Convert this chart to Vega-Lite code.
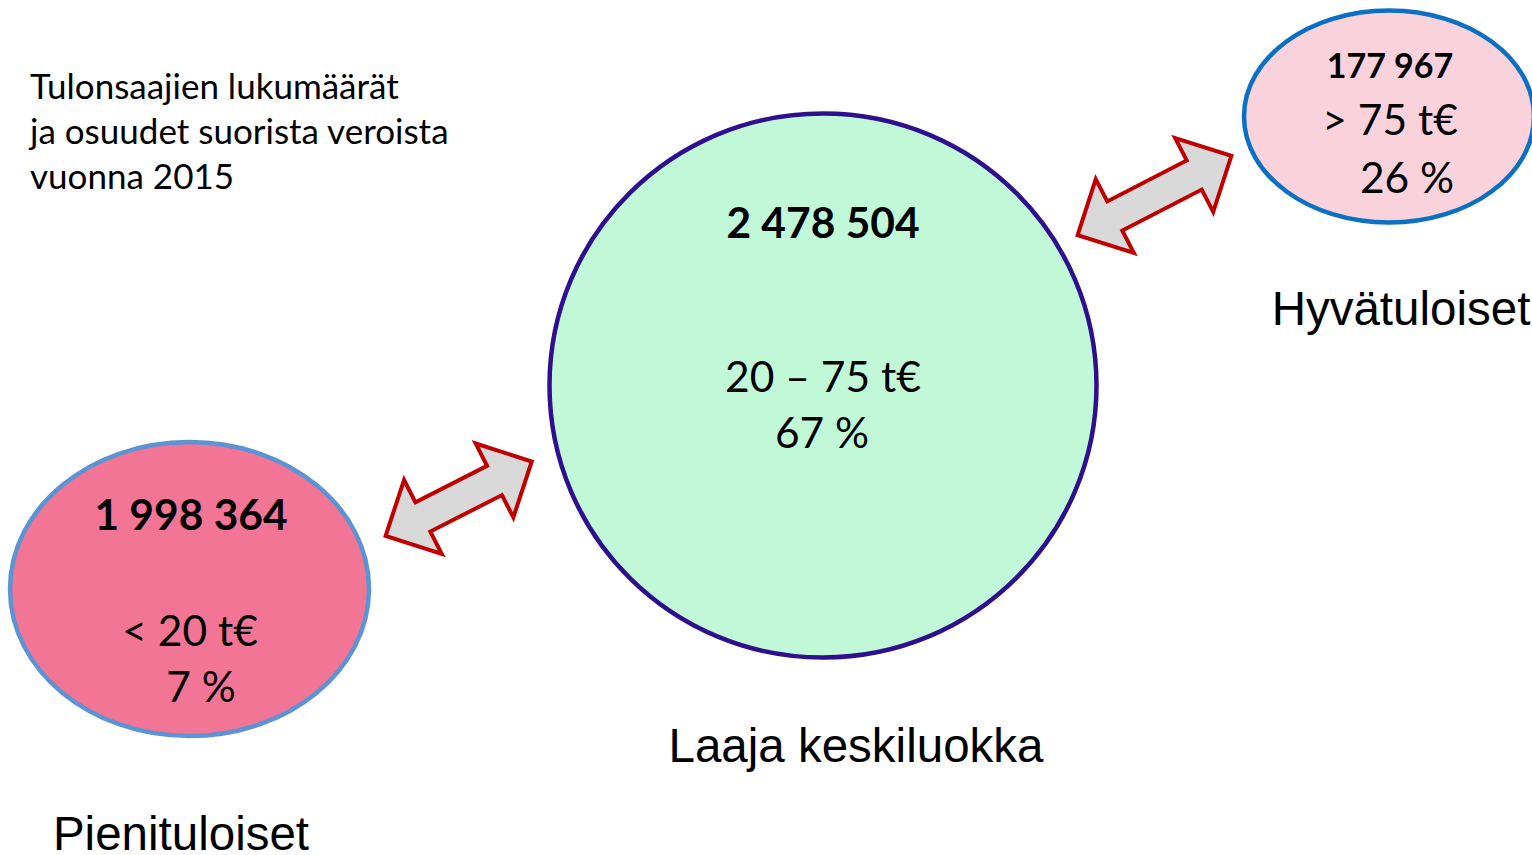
{
  "$schema": "https://vega.github.io/schema/vega-lite/v6.json",
  "width": 1532,
  "height": 855,
  "padding": 0,
  "autosize": {"type": "none"},
  "background": "white",
  "view": {"stroke": null},
  "datasets": {
    "groups": [
      {"group": "Pienituloiset", "x": 189.5, "y": 589},
      {"group": "Laaja keskiluokka", "x": 823, "y": 385.5},
      {"group": "Hyvätuloiset", "x": 1389, "y": 116.5}
    ],
    "arrows": [
      {"arrow": "left", "x": 458.7, "y": 498.7},
      {"arrow": "right", "x": 1154.5, "y": 195.5}
    ],
    "texts": [
      {"role": "title", "text": "Tulonsaajien lukumäärät", "x": 30, "y": 99},
      {"role": "title", "text": "ja osuudet suorista veroista", "x": 30, "y": 144},
      {"role": "title", "text": "vuonna 2015", "x": 30, "y": 189},
      {"role": "count", "text": "2 478 504", "x": 823, "y": 238},
      {"role": "value", "text": "20 – 75 t€", "x": 823, "y": 392},
      {"role": "value", "text": "67 %", "x": 822, "y": 448},
      {"role": "countSmall", "text": "177 967", "x": 1390, "y": 78},
      {"role": "value", "text": "> 75 t€", "x": 1390, "y": 135},
      {"role": "value", "text": "26 %", "x": 1407, "y": 193},
      {"role": "count", "text": "1 998 364", "x": 191, "y": 530},
      {"role": "value", "text": "< 20 t€", "x": 190, "y": 646},
      {"role": "value", "text": "7 %", "x": 201, "y": 702},
      {"role": "label", "text": "Laaja keskiluokka", "x": 856, "y": 762},
      {"role": "label", "text": "Pienituloiset", "x": 181, "y": 850},
      {"role": "label", "text": "Hyvätuloiset", "x": 1401, "y": 325}
    ]
  },
  "encoding": {
    "x": {"field": "x", "type": "quantitative", "scale": {"domain": [0, 1532], "nice": false, "zero": false}, "axis": null},
    "y": {"field": "y", "type": "quantitative", "scale": {"domain": [0, 855], "nice": false, "zero": false, "reverse": true}, "axis": null}
  },
  "layer": [
    {
      "data": {"name": "groups"},
      "transform": [{"filter": "datum.group === 'Pienituloiset'"}],
      "mark": {"type": "point", "filled": true, "opacity": 1, "fill": "#F37596", "stroke": "#5B93D3", "strokeWidth": 4.5, "size": 128881,
        "shape": "M 1 0 C 1 0.4523 0.5523 0.819 0 0.819 C -0.5523 0.819 -1 0.4523 -1 0 C -1 -0.4523 -0.5523 -0.819 0 -0.819 C 0.5523 -0.819 1 -0.4523 1 0 Z"}
    },
    {
      "data": {"name": "groups"},
      "transform": [{"filter": "datum.group === 'Laaja keskiluokka'"}],
      "mark": {"type": "point", "filled": true, "opacity": 1, "fill": "#C1F9D8", "stroke": "#2E0F8E", "strokeWidth": 4.5, "size": 299209,
        "shape": "M 1 0 C 1 0.5493 0.5523 0.9945 0 0.9945 C -0.5523 0.9945 -1 0.5493 -1 0 C -1 -0.5493 -0.5523 -0.9945 0 -0.9945 C 0.5523 -0.9945 1 -0.5493 1 0 Z"}
    },
    {
      "data": {"name": "groups"},
      "transform": [{"filter": "datum.group === 'Hyvätuloiset'"}],
      "mark": {"type": "point", "filled": true, "opacity": 1, "fill": "#F9D2DC", "stroke": "#0B70C4", "strokeWidth": 4.5, "size": 84100,
        "shape": "M 1 0 C 1 0.4037 0.5523 0.731 0 0.731 C -0.5523 0.731 -1 0.4037 -1 0 C -1 -0.4037 -0.5523 -0.731 0 -0.731 C 0.5523 -0.731 1 -0.4037 1 0 Z"}
    },
    {
      "data": {"name": "arrows"},
      "transform": [{"filter": "datum.arrow === 'left'"}],
      "mark": {"type": "point", "filled": true, "opacity": 1, "fill": "#D9D9D9", "stroke": "#C00000", "strokeWidth": 4, "strokeJoin": "miter", "size": 26896, "angle": 333,
        "shape": "M -1 0 L -0.49 -0.506 L -0.49 -0.2 L 0.49 -0.2 L 0.49 -0.506 L 1 0 L 0.49 0.506 L 0.49 0.2 L -0.49 0.2 L -0.49 0.506 Z"}
    },
    {
      "data": {"name": "arrows"},
      "transform": [{"filter": "datum.arrow === 'right'"}],
      "mark": {"type": "point", "filled": true, "opacity": 1, "fill": "#D9D9D9", "stroke": "#C00000", "strokeWidth": 4, "strokeJoin": "miter", "size": 26896, "angle": 332.7,
        "shape": "M -1.055 0 L -0.545 -0.506 L -0.545 -0.2 L 0.545 -0.2 L 0.545 -0.506 L 1.055 0 L 0.545 0.506 L 0.545 0.2 L -0.545 0.2 L -0.545 0.506 Z"}
    },
    {
      "data": {"name": "texts"},
      "transform": [{"filter": "datum.role === 'title'"}],
      "mark": {"type": "text", "align": "left", "baseline": "alphabetic", "font": "Lato", "fontSize": 35, "color": "#000000"},
      "encoding": {"text": {"field": "text"}}
    },
    {
      "data": {"name": "texts"},
      "transform": [{"filter": "datum.role === 'count'"}],
      "mark": {"type": "text", "align": "center", "baseline": "alphabetic", "font": "Lato", "fontWeight": "bold", "fontSize": 42.5, "color": "#000000"},
      "encoding": {"text": {"field": "text"}}
    },
    {
      "data": {"name": "texts"},
      "transform": [{"filter": "datum.role === 'countSmall'"}],
      "mark": {"type": "text", "align": "center", "baseline": "alphabetic", "font": "Lato", "fontWeight": "bold", "fontSize": 34, "color": "#000000"},
      "encoding": {"text": {"field": "text"}}
    },
    {
      "data": {"name": "texts"},
      "transform": [{"filter": "datum.role === 'value'"}],
      "mark": {"type": "text", "align": "center", "baseline": "alphabetic", "font": "Lato", "fontSize": 42.5, "color": "#000000"},
      "encoding": {"text": {"field": "text"}}
    },
    {
      "data": {"name": "texts"},
      "transform": [{"filter": "datum.role === 'label'"}],
      "mark": {"type": "text", "align": "center", "baseline": "alphabetic", "font": "Liberation Sans", "fontSize": 47.5, "color": "#000000"},
      "encoding": {"text": {"field": "text"}}
    }
  ]
}
